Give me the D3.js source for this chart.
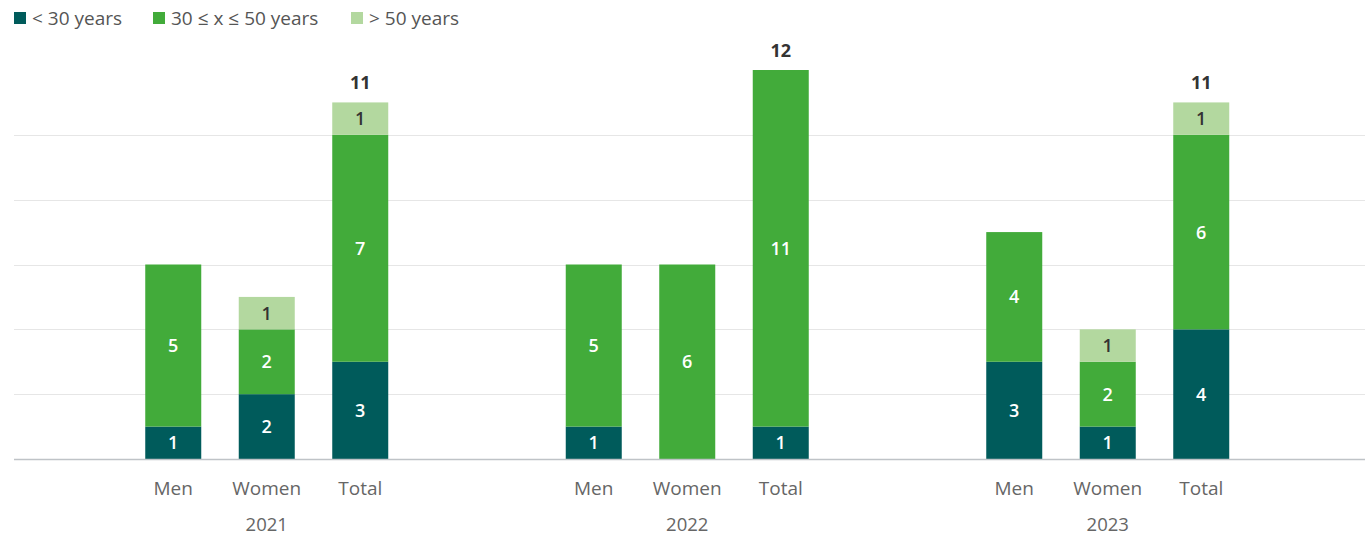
<!DOCTYPE html>
<html>
<head>
<meta charset="utf-8">
<script src="https://cdn.jsdelivr.net/npm/d3@7"></script>
<style>
  html, body { margin: 0; padding: 0; background: #fff; }
  svg { display: block; font-family: "Open Sans", sans-serif; }
</style>
</head>
<body>
<svg id="chart" width="1371" height="537"></svg>
<script>
// Age groups (stack order, bottom to top)
const seriesNames = ["< 30 years", "30 ≤ x ≤ 50 years", "> 50 years"];
const seriesColors = ["#005b5b", "#42ab3a", "#b3d89f"];
const years = ["2021", "2022", "2023"];
const groups = ["Men", "Women", "Total"];

// Values per year, in order Men, Women, Total
const under30 = { "2021": [1, 2, 3], "2022": [1, 0, 1], "2023": [3, 1, 4] };
const mid30to50 = { "2021": [5, 2, 7], "2022": [5, 6, 11], "2023": [4, 2, 6] };
const over50 = { "2021": [0, 1, 1], "2022": [0, 0, 0], "2023": [0, 1, 1] };
const yTicks = [0, 2, 4, 6, 8, 10];

const rows = [];
years.forEach(y => groups.forEach((g, i) => {
  rows.push({ year: y, group: g, v: [under30[y][i], mid30to50[y][i], over50[y][i]] });
}));

const svg = d3.select("#chart");
const left = 14, right = 1365, baseY = 459, topY = 70;

const xYear = d3.scaleBand().domain(years).range([56.5, 1318]).padding(0);
const xGroup = d3.scalePoint().domain(groups).range([-93.5, 93.5]);
const y = d3.scaleLinear().domain([0, 12]).range([baseY, topY]);
const barW = 56;
const cx = d => xYear(d.year) + xYear.bandwidth() / 2 + xGroup(d.group);

// Gridlines
svg.append("g").selectAll("line").data(yTicks.filter(t => t > 0)).join("line")
  .attr("x1", left).attr("x2", right)
  .attr("y1", d => Math.round(y(d)) + 0.5).attr("y2", d => Math.round(y(d)) + 0.5)
  .attr("stroke", "#e6e6e6").attr("stroke-width", 1);

// Stacked segments
const segs = [];
rows.forEach(r => {
  let acc = 0;
  r.v.forEach((val, k) => {
    if (val > 0) segs.push({ row: r, k, y0: acc, y1: acc + val, val });
    acc += val;
  });
});

svg.append("g").selectAll("rect").data(segs).join("rect")
  .attr("x", d => cx(d.row) - barW / 2)
  .attr("width", barW)
  .attr("y", d => y(d.y1))
  .attr("height", d => y(d.y0) - y(d.y1))
  .attr("fill", d => seriesColors[d.k]);

svg.append("g").selectAll("text").data(segs).join("text")
  .attr("x", d => cx(d.row))
  .attr("y", d => (y(d.y0) + y(d.y1)) / 2)
  .attr("dy", "0.36em")
  .attr("text-anchor", "middle")
  .attr("font-size", 18).attr("font-weight", 600)
  .attr("fill", d => d.k === 2 ? "#333333" : "#ffffff")
  .text(d => d.val);

// Totals above each Total bar
const totals = rows.filter(r => r.group === "Total");
svg.append("g").selectAll("text").data(totals).join("text")
  .attr("x", d => cx(d))
  .attr("y", d => y(d3.sum(d.v)) - 13)
  .attr("text-anchor", "middle")
  .attr("font-size", 18).attr("font-weight", 700)
  .attr("fill", "#333333")
  .text(d => d3.sum(d.v));

// Baseline
svg.append("line")
  .attr("x1", left).attr("x2", right)
  .attr("y1", baseY + 0.5).attr("y2", baseY + 0.5)
  .attr("stroke", "#bfc3c7").attr("stroke-width", 1.5);

// Category labels
svg.append("g").selectAll("text").data(rows).join("text")
  .attr("x", d => cx(d)).attr("y", 495)
  .attr("text-anchor", "middle")
  .attr("font-size", 19).attr("fill", "#666666")
  .text(d => d.group);

svg.append("g").selectAll("text").data(years).join("text")
  .attr("x", d => xYear(d) + xYear.bandwidth() / 2).attr("y", 531)
  .attr("text-anchor", "middle")
  .attr("font-size", 18.5).attr("fill", "#666666")
  .text(d => d);

// Legend
const legendX = [14, 153, 351];
const lg = svg.append("g").selectAll("g").data(seriesNames).join("g")
  .attr("transform", (d, i) => `translate(${legendX[i]},0)`);
lg.append("rect").attr("x", 0).attr("y", 12).attr("width", 12).attr("height", 12)
  .attr("fill", (d, i) => seriesColors[i]);
lg.append("text").attr("x", 18).attr("y", 25)
  .attr("font-size", 19).attr("fill", "#555555")
  .text(d => d);
</script>
</body>
</html>
